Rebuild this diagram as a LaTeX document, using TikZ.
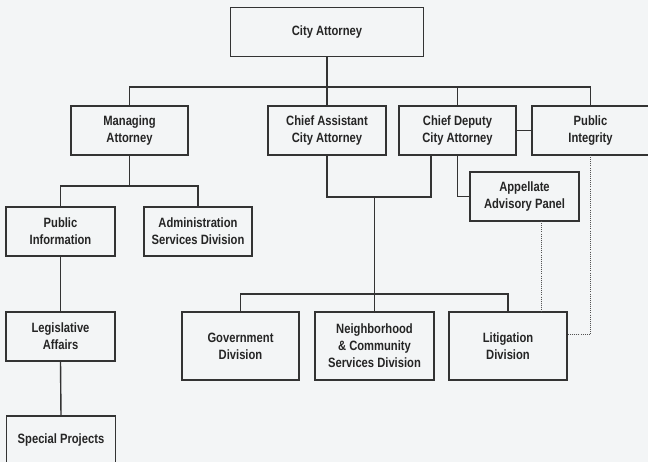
\documentclass[tikz,border=0pt]{standalone}
\usepackage{fontspec}
\setmainfont{Liberation Sans}[FakeStretch=0.83]
\usepackage{tikz}
\usetikzlibrary{calc}
\definecolor{orgline}{HTML}{333333}
\definecolor{orgtext}{HTML}{252525}
\definecolor{paper}{HTML}{F3F5F6}

\tikzset{
  orgbox/.style={draw=orgline, line width=1.4pt, inner sep=0pt, outer sep=0pt,
    align=center, text=orgtext, font=\bfseries\fontsize{13.5}{17}\selectfont,
    minimum height=49pt},
  link/.style={draw=orgline, line width=1.4pt},
  dotlink/.style={draw=orgline!85, line width=1pt, dash pattern=on 1pt off 1.1pt}
}

\begin{document}
\begin{tikzpicture}[x=1pt, y=-1pt]
  \useasboundingbox (0,0) rectangle (648,462);
  \fill[paper] (0,0) rectangle (648,462);

  % ---------- top ----------
  \node[orgbox, minimum width=193pt] (city) at (327,32) {City Attorney};

  % ---------- second row ----------
  \node[orgbox, minimum width=117pt] (manage) at (129.5,130.5) {Managing\\Attorney};
  \node[orgbox, minimum width=118pt] (chiefasst) at (327,130.5) {Chief Assistant\\City Attorney};
  \node[orgbox, minimum width=117pt] (chiefdep) at (457.5,130.5) {Chief Deputy\\City Attorney};
  \node[orgbox, minimum width=117pt] (integrity) at (590.5,130.5) {Public\\Integrity};

  % ---------- left column ----------
  \node[orgbox, minimum width=109pt] (pubinfo) at (60.5,231.5) {Public\\Information};
  \node[orgbox, minimum width=108pt] (admin) at (198,231.5) {Administration\\Services Division};
  \node[orgbox, minimum width=109pt] (legis) at (60.5,336.5) {Legislative\\Affairs};
  \node[orgbox, minimum width=109pt] (special) at (61,440.5) {Special Projects};

  % ---------- right side ----------
  \node[orgbox, minimum width=109pt] (appellate) at (524.5,196.5) {Appellate\\Advisory Panel};
  \node[orgbox, minimum width=117pt, minimum height=68pt] (govt) at (240.5,346) {Government\\Division};
  \node[orgbox, minimum width=119pt, minimum height=68pt] (neigh) at (374.5,346) {Neighborhood\\\& Community\\Services Division};
  \node[orgbox, minimum width=118pt, minimum height=68pt] (litig) at (508,346) {Litigation\\Division};

  % solid reporting lines
  \draw[link] (city.south) -- (chiefasst.north);
  \draw[link] (manage.north) -- ++(0,-19) -| (integrity.north);
  \draw[link] (chiefdep.north) -- ++(0,-19);
  \draw[link] (chiefdep.east) -- (integrity.west);

  \draw[link] (manage.south) -- ++(0,31);
  \draw[link] (pubinfo.north) -- ++(0,-21) -| (admin.north);
  \draw[link] (pubinfo.south) -- (legis.north);
  \draw[link] (legis.south) -- (special.north);

  \draw[link] (chiefasst.south) -- ++(0,42) -| ($(chiefdep.south west)+(32,0)$);
  \draw[link] (chiefdep.south) |- (appellate.west);
  \draw[link] (neigh.north) -- ++(0,-115);
  \draw[link] (govt.north) -- ++(0,-18) -| (litig.north);

  % dotted advisory lines
  \draw[dotlink] ([xshift=16.5pt]appellate.south) -- ([xshift=33pt]litig.north);
  \draw[dotlink] (integrity.south) |- ([yshift=11pt]litig.east);
\end{tikzpicture}
\end{document}
